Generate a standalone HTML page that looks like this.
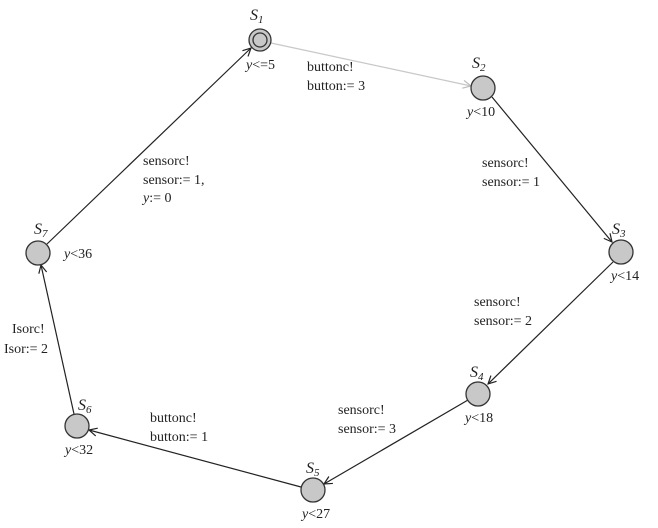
<!DOCTYPE html><html><head><style>body{margin:0;background:#fff}svg{display:block}text{font-family:"Liberation Serif",serif;font-size:14px;fill:#222}.i{font-style:italic}.s{font-size:16px;font-style:italic}</style></head><body>
<svg width="658" height="528" viewBox="0 0 658 528">
<defs><marker id="a" markerWidth="10" markerHeight="10" refX="9" refY="5" orient="auto" markerUnits="userSpaceOnUse"><path d="M1,1 L9,5 L1,9" fill="none" stroke="#222" stroke-width="1.2"/></marker>
<marker id="g" markerWidth="10" markerHeight="10" refX="9" refY="5" orient="auto" markerUnits="userSpaceOnUse"><path d="M1,1 L9,5 L1,9" fill="none" stroke="#bbb" stroke-width="1.2"/></marker></defs>
<g stroke="#222" stroke-width="1.2" fill="none">
<line x1="271" y1="43" x2="471" y2="86" stroke="#c8c8c8" marker-end="url(#g)"/>
<line x1="492" y1="97" x2="612" y2="242" marker-end="url(#a)"/>
<line x1="613" y1="262" x2="488" y2="384" marker-end="url(#a)"/>
<line x1="468" y1="400" x2="324" y2="484" marker-end="url(#a)"/>
<line x1="301" y1="487" x2="89" y2="430" marker-end="url(#a)"/>
<line x1="74" y1="414" x2="41" y2="265" marker-end="url(#a)"/>
<line x1="47" y1="244" x2="251" y2="48" marker-end="url(#a)"/>
</g>
<g fill="#c8c8c8" stroke="#333" stroke-width="1.3">
<circle cx="260" cy="40" r="11"/><circle cx="260" cy="40" r="7"/>
<circle cx="483" cy="88" r="12"/><circle cx="621" cy="252" r="12"/><circle cx="478" cy="394" r="12"/>
<circle cx="313" cy="490" r="12"/><circle cx="77" cy="426" r="12"/><circle cx="38" cy="253" r="12"/>
</g>
<text x="250" y="20" class="s">S<tspan font-size="11" dy="3">1</tspan></text>
<text x="246" y="69"><tspan class="i">y</tspan>&lt;=5</text>
<text x="307" y="71">buttonc!</text><text x="307" y="90">button:= 3</text>
<text x="472" y="68" class="s">S<tspan font-size="11" dy="3">2</tspan></text>
<text x="467" y="116"><tspan class="i">y</tspan>&lt;10</text>
<text x="482" y="167">sensorc!</text><text x="482" y="186">sensor:= 1</text>
<text x="612" y="234" class="s">S<tspan font-size="11" dy="3">3</tspan></text>
<text x="611" y="280"><tspan class="i">y</tspan>&lt;14</text>
<text x="474" y="306">sensorc!</text><text x="474" y="325">sensor:= 2</text>
<text x="470" y="377" class="s">S<tspan font-size="11" dy="3">4</tspan></text>
<text x="465" y="422"><tspan class="i">y</tspan>&lt;18</text>
<text x="338" y="414">sensorc!</text><text x="338" y="433">sensor:= 3</text>
<text x="306" y="473" class="s">S<tspan font-size="11" dy="3">5</tspan></text>
<text x="302" y="518"><tspan class="i">y</tspan>&lt;27</text>
<text x="150" y="422">buttonc!</text><text x="150" y="441">button:= 1</text>
<text x="78" y="410" class="s">S<tspan font-size="11" dy="3">6</tspan></text>
<text x="65" y="454"><tspan class="i">y</tspan>&lt;32</text>
<text x="12" y="333">Isorc!</text><text x="4" y="353">Isor:= 2</text>
<text x="34" y="234" class="s">S<tspan font-size="11" dy="3">7</tspan></text>
<text x="64" y="258"><tspan class="i">y</tspan>&lt;36</text>
<text x="143" y="165">sensorc!</text><text x="143" y="184">sensor:= 1,</text><text x="143" y="202"><tspan class="i">y</tspan>:= 0</text>
</svg></body></html>
